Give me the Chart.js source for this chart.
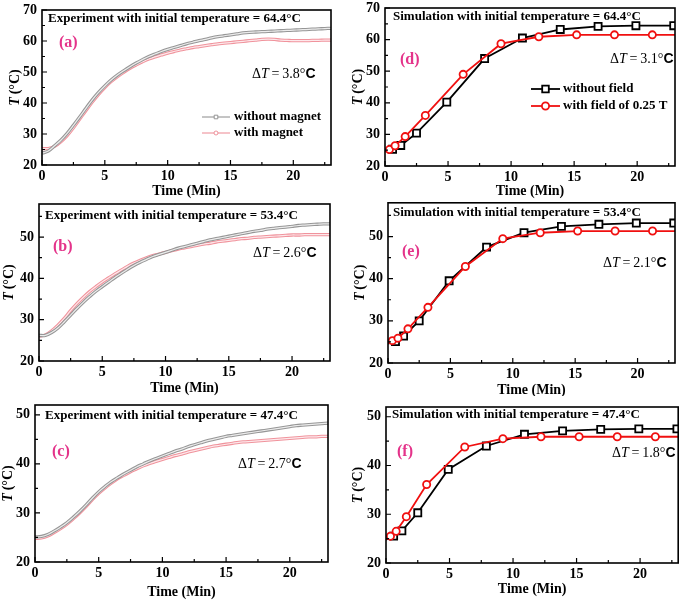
<!DOCTYPE html>
<html>
<head>
<meta charset="utf-8">
<script src="https://cdn.jsdelivr.net/npm/chart.js@4.4.0/dist/chart.umd.min.js"></script>
<style>
  html, body { margin: 0; padding: 0; background: #fff; }
  #wrap { position: relative; width: 685px; height: 601px; overflow: hidden; }
  #wrap canvas { position: absolute; }
</style>
</head>
<body>
<div id="wrap">
  <canvas id="chartA"></canvas>
  <canvas id="chartB"></canvas>
  <canvas id="chartC"></canvas>
  <canvas id="chartD"></canvas>
  <canvas id="chartE"></canvas>
  <canvas id="chartF"></canvas>
</div>
<script>
// ---- data ----
const expTime = [0, 0.5, 1, 1.5, 2, 2.5, 3, 3.5, 4, 4.5, 5, 5.5, 6, 6.5, 7, 7.5, 8, 8.5, 9, 9.5, 10, 10.5, 11, 11.5,
  12, 12.5, 13, 13.5, 14, 14.5, 15, 15.5, 16, 16.5, 17, 17.5, 18, 18.5, 19, 19.5, 20, 20.5, 21, 21.5, 22, 22.5, 23];

// (a) experiment, initial 64.4 C
const expA_without = [23.8, 24.5, 26.2, 28.0, 30.2, 32.8, 35.5, 38.3, 41.0, 43.4, 45.5, 47.4, 49.0, 50.4, 51.7, 52.9,
  54.0, 55.0, 55.8, 56.6, 57.3, 57.9, 58.5, 59.1, 59.6, 60.1, 60.5, 61.0, 61.4, 61.7, 62.0, 62.3, 62.6, 62.8, 62.9,
  63.0, 63.1, 63.2, 63.3, 63.4, 63.5, 63.6, 63.7, 63.8, 63.9, 64.0, 64.1];
const expA_with = [25.3, 25.3, 26.0, 27.5, 29.5, 32.0, 34.8, 37.6, 40.3, 42.8, 45.0, 46.9, 48.5, 49.9, 51.2, 52.3,
  53.3, 54.2, 54.9, 55.5, 56.1, 56.6, 57.1, 57.5, 57.9, 58.2, 58.5, 58.8, 59.1, 59.3, 59.5, 59.7, 59.9, 60.1, 60.3,
  60.5, 60.6, 60.5, 60.3, 60.2, 60.1, 60.1, 60.1, 60.2, 60.2, 60.3, 60.3];

// (b) experiment, initial 53.4 C
const expB_without = [26.2, 26.2, 26.9, 28.0, 29.5, 31.1, 32.7, 34.2, 35.6, 36.9, 38.0, 39.1, 40.2, 41.2, 42.2, 43.1,
  43.9, 44.6, 45.3, 45.8, 46.3, 46.8, 47.3, 47.7, 48.1, 48.5, 48.9, 49.3, 49.6, 49.9, 50.2, 50.5, 50.8, 51.1, 51.4,
  51.6, 51.9, 52.1, 52.3, 52.4, 52.6, 52.8, 52.9, 53.0, 53.1, 53.2, 53.2];
const expB_with = [26.0, 26.3, 27.3, 28.7, 30.3, 32.2, 33.9, 35.4, 36.8, 38.0, 39.1, 40.1, 41.1, 42.0, 42.9, 43.7,
  44.4, 45.0, 45.5, 45.9, 46.3, 46.7, 47.1, 47.4, 47.7, 48.0, 48.3, 48.5, 48.8, 49.0, 49.2, 49.4, 49.6, 49.7, 49.9,
  50.0, 50.1, 50.2, 50.3, 50.4, 50.5, 50.5, 50.6, 50.6, 50.6, 50.6, 50.6];

// (c) experiment, initial 47.4 C
const expC_without = [25.1, 25.2, 25.6, 26.3, 27.1, 28.0, 29.1, 30.3, 31.6, 33.0, 34.3, 35.4, 36.4, 37.2, 38.0, 38.7,
  39.4, 40.0, 40.6, 41.1, 41.6, 42.1, 42.6, 43.0, 43.5, 43.9, 44.3, 44.7, 45.0, 45.3, 45.6, 45.8, 46.0, 46.2, 46.4,
  46.6, 46.8, 47.0, 47.2, 47.4, 47.6, 47.8, 47.9, 48.0, 48.1, 48.2, 48.3];
const expC_with = [24.8, 24.9, 25.3, 26.0, 26.8, 27.7, 28.8, 30.0, 31.3, 32.7, 34.0, 35.1, 36.1, 37.0, 37.7, 38.4,
  39.0, 39.6, 40.1, 40.5, 40.9, 41.3, 41.7, 42.0, 42.4, 42.7, 43.0, 43.3, 43.6, 43.8, 44.0, 44.2, 44.4, 44.5, 44.6,
  44.7, 44.8, 44.9, 45.0, 45.1, 45.2, 45.3, 45.4, 45.5, 45.5, 45.6, 45.6];

// simulations: squares = without field, circles = with field of 0.25 T
const simSquareTime = [0, 0.6, 1.25, 2.5, 4.9, 7.9, 10.9, 13.9, 16.9, 19.9, 22.9];
const simCircleTime = [0, 0.35, 0.8, 1.6, 3.2, 6.2, 9.2, 12.2, 15.2, 18.2, 21.2, 23];

const simD_without = [24.6, 25.3, 26.5, 30.4, 40.2, 54.0, 60.5, 63.2, 64.2, 64.4, 64.4];
const simD_with = [24.8, 25.2, 26.4, 29.3, 36.0, 49.0, 58.7, 60.9, 61.5, 61.5, 61.5, 61.5];
const simE_without = [24.6, 25.1, 26.4, 30.0, 39.5, 47.5, 50.9, 52.4, 52.9, 53.2, 53.2];
const simE_with = [24.7, 25.3, 25.9, 28.1, 33.2, 42.9, 49.5, 50.9, 51.3, 51.3, 51.3, 51.3];
const simF_without = [24.8, 25.5, 26.6, 30.3, 39.2, 44.0, 46.4, 47.1, 47.4, 47.5, 47.5];
const simF_with = [24.8, 25.5, 26.5, 29.5, 36.1, 43.8, 45.5, 45.9, 45.9, 45.9, 45.9, 45.9];

const initialTemps = ['64.4', '53.4', '47.4'];
const deltaExp = ['3.8', '2.6', '2.7'];
const deltaSim = ['3.1', '2.1', '1.8'];
const yMaxRows = [70, 58, 52];
const xMax = 23;
const xStep = 5;
const yStep = 10;

// ---- helpers ----
const SERIF = '"Liberation Serif", "Times New Roman", serif';
const SANS = '"Liberation Sans", Arial, sans-serif';
const LABEL_PINK = '#e4338a';

function pairs(xs, ys) {
  return ys.map((y, i) => ({ x: xs[i], y: y }));
}

function expDatasets(without, withMag) {
  return [
    { data: pairs(expTime, without), borderColor: '#ececec', borderWidth: 1.2, order: 1 },
    { data: pairs(expTime, without), borderColor: '#969696', borderWidth: 3.3, order: 2 },
    { data: pairs(expTime, withMag), borderColor: '#fde8eb', borderWidth: 1.2, order: 3 },
    { data: pairs(expTime, withMag), borderColor: '#f0939c', borderWidth: 3.3, order: 4 }
  ].map(d => Object.assign(d, { pointRadius: 0, tension: 0.35, fill: false }));
}

// hide the markers at the very ends of the simulated curves
const endRadius = r => ctx => (ctx.raw && (ctx.raw.x === 0 || ctx.raw.x === xMax)) ? 0 : r;

function simDatasets(without, withField) {
  return [
    {
      data: pairs(simCircleTime, withField), borderColor: '#f01010', borderWidth: 1.8,
      pointStyle: 'circle', pointRadius: endRadius(3.6), pointBorderWidth: 1.8,
      pointBorderColor: '#f01010', pointBackgroundColor: '#fff', order: 1
    },
    {
      data: pairs(simSquareTime, without), borderColor: '#000', borderWidth: 1.8,
      pointStyle: 'rect', pointRadius: endRadius(5), pointBorderWidth: 1.8,
      pointBorderColor: '#000', pointBackgroundColor: '#fff', order: 2
    }
  ].map(d => Object.assign(d, { tension: 0, fill: false }));
}

function drawRuns(ctx, x, y, runs, align) {
  let total = 0;
  runs.forEach(r => { ctx.font = r[0]; total += ctx.measureText(r[1]).width; });
  let cx = align === 'center' ? x - total / 2 : x;
  ctx.textAlign = 'left';
  ctx.textBaseline = 'middle';
  runs.forEach(r => {
    ctx.font = r[0];
    ctx.fillText(r[1], cx, y);
    cx += ctx.measureText(r[1]).width;
  });
}

// frame, inward ticks and all the in-plot text
function decorPlugin(p) {
  return {
    id: 'decor' + p.id,
    afterDatasetsDraw(chart) {
      const ctx = chart.ctx;
      const a = chart.chartArea;
      const xs = chart.scales.x, ys = chart.scales.y;
      const ox = p.box[0], oy = p.box[1];
      ctx.save();
      ctx.strokeStyle = '#000';
      ctx.lineWidth = 1.6;
      ctx.strokeRect(a.left, a.top, a.right - a.left, a.bottom - a.top);

      ctx.lineWidth = 1.2;
      ctx.beginPath();
      for (let v = 0; v <= xMax; v += xStep / 2) {
        const px = xs.getPixelForValue(v);
        const len = (v % xStep === 0) ? 5 : 3;
        ctx.moveTo(px, a.bottom); ctx.lineTo(px, a.bottom - len);
      }
      for (let v = 20; v <= ys.max; v += yStep / 2) {
        const py = ys.getPixelForValue(v);
        const len = (v % yStep === 0) ? 5 : 3;
        ctx.moveTo(a.left, py); ctx.lineTo(a.left + len, py);
      }
      ctx.stroke();

      ctx.fillStyle = '#000';
      // panel title
      drawRuns(ctx, p.title[0] - ox, p.title[1] - oy, [['bold 13px ' + SERIF, p.titleText]], 'left');
      // panel letter
      ctx.fillStyle = LABEL_PINK;
      drawRuns(ctx, p.letter[0] - ox, p.letter[1] - oy, [['bold 16px ' + SERIF, p.letterText]], 'left');
      // delta T
      ctx.fillStyle = '#000';
      drawRuns(ctx, p.delta[0] - ox, p.delta[1] - oy, [
        ['14px ' + SERIF, '\u0394'],
        ['italic 14px ' + SERIF, 'T'],
        ['14px ' + SERIF, '\u2009=\u2009' + p.deltaText + '\u00b0'],
        ['bold 14px ' + SANS, 'C']
      ], 'left');
      // x axis title
      drawRuns(ctx, (a.left + a.right) / 2, p.xTitleY - oy, [['bold 14px ' + SERIF, 'Time (Min)']], 'center');
      // y axis title
      ctx.save();
      ctx.translate(p.yTitleX - ox, (a.top + a.bottom) / 2);
      ctx.rotate(-Math.PI / 2);
      drawRuns(ctx, 0, 0, [['italic bold 14px ' + SERIF, 'T'], ['bold 14px ' + SERIF, '\u2009(\u00b0C)']], 'center');
      ctx.restore();

      // legend
      if (p.legend) {
        const L = p.legend;
        L.items.forEach((it, i) => {
          const y = L.y[i] - oy;
          const x0 = L.x0 - ox, x1 = L.x1 - ox, xm = (x0 + x1) / 2;
          ctx.strokeStyle = it.color;
          ctx.lineWidth = it.lw;
          ctx.beginPath(); ctx.moveTo(x0, y); ctx.lineTo(x1, y); ctx.stroke();
          ctx.fillStyle = '#fff';
          ctx.lineWidth = it.mlw;
          ctx.beginPath();
          if (it.shape === 'rect') {
            ctx.rect(xm - it.size, y - it.size, it.size * 2, it.size * 2);
          } else {
            ctx.arc(xm, y, it.size, 0, Math.PI * 2);
          }
          ctx.fill(); ctx.stroke();
          ctx.fillStyle = '#000';
          drawRuns(ctx, L.tx - ox, y, [['bold 13px ' + SERIF, it.text]], 'left');
        });
      }
      ctx.restore();
    }
  };
}

// ---- panel layout (page pixels) ----
const panels = [
  { id: 'chartA', box: [0, 0, 340, 200], plot: [42, 10, 331, 165], row: 0, kind: 'exp',
    datasets: expDatasets(expA_without, expA_with), title: [48, 19], letter: [59, 43], delta: [252, 74],
    xTitleY: 191, yTitleX: 15, letterText: '(a)',
    legend: { x0: 202, x1: 230, tx: 234, y: [117, 133], items: [
      { text: 'without magnet', color: '#8a8a8a', lw: 1, shape: 'rect', size: 1.8, mlw: 0.9 },
      { text: 'with magnet', color: '#ec8791', lw: 1, shape: 'circle', size: 2, mlw: 0.9 }
    ] } },
  { id: 'chartB', box: [0, 196, 340, 200], plot: [39, 204, 330, 361], row: 1, kind: 'exp',
    datasets: expDatasets(expB_without, expB_with), title: [45, 216], letter: [53, 247], delta: [253, 253],
    xTitleY: 388, yTitleX: 9, letterText: '(b)' },
  { id: 'chartC', box: [0, 398, 340, 203], plot: [35, 405, 328, 562], row: 2, kind: 'exp',
    datasets: expDatasets(expC_without, expC_with), title: [45, 416], letter: [52, 452], delta: [238, 464],
    xTitleY: 592, yTitleX: 8, letterText: '(c)' },
  { id: 'chartD', box: [340, 0, 345, 200], plot: [385, 8, 675, 166], row: 0, kind: 'sim',
    datasets: simDatasets(simD_without, simD_with), title: [393, 17], letter: [400, 60], delta: [610, 59],
    xTitleY: 191, yTitleX: 358, letterText: '(d)',
    legend: { x0: 531, x1: 560, tx: 563, y: [89, 106], items: [
      { text: 'without field', color: '#000', lw: 1.8, shape: 'rect', size: 3.3, mlw: 1.8 },
      { text: 'with field of 0.25 T', color: '#f01010', lw: 1.8, shape: 'circle', size: 3.6, mlw: 1.8 }
    ] } },
  { id: 'chartE', box: [340, 196, 345, 200], plot: [388, 202, 675, 363], row: 1, kind: 'sim',
    datasets: simDatasets(simE_without, simE_with), title: [393, 213], letter: [402, 252], delta: [603, 263],
    xTitleY: 390, yTitleX: 360, letterText: '(e)' },
  { id: 'chartF', box: [340, 398, 345, 203], plot: [386, 407, 683, 563], row: 2, kind: 'sim',
    datasets: simDatasets(simF_without, simF_with), title: [392, 415], letter: [397, 452], delta: [612, 453],
    xTitleY: 589, yTitleX: 358, letterText: '(f)' }
];

panels.forEach(p => {
  const prefix = p.kind === 'exp' ? 'Experiment' : 'Simulation';
  p.titleText = prefix + ' with initial temperature = ' + initialTemps[p.row] + '\u00b0C';
  p.deltaText = p.kind === 'exp' ? deltaExp[p.row] : deltaSim[p.row];
});

function initializeChart(p) {
  const el = document.getElementById(p.id);
  const [bx, by, bw, bh] = p.box;
  const [pl, pt, pr, pb] = p.plot;
  el.width = bw; el.height = bh;
  el.style.left = bx + 'px'; el.style.top = by + 'px';
  el.style.width = bw + 'px'; el.style.height = bh + 'px';

  const tickFont = { family: SERIF, size: 14, weight: 'bold' };
  new Chart(el.getContext('2d'), {
    type: 'line',
    data: { datasets: p.datasets },
    options: {
      responsive: false,
      devicePixelRatio: 1,
      animation: false,
      layout: { padding: { left: 0, top: pt - by, right: bx + bw - pr, bottom: 0 } },
      plugins: { legend: { display: false }, tooltip: { enabled: false } },
      scales: {
        x: {
          type: 'linear', min: 0, max: xMax,
          grid: { display: false, drawTicks: false }, border: { display: false },
          ticks: { stepSize: xStep, includeBounds: false, color: '#000', font: tickFont, padding: 3, maxRotation: 0 },
          afterFit: s => { s.height = by + bh - pb; s.paddingLeft = 0; s.paddingRight = 0; }
        },
        y: {
          min: 20, max: yMaxRows[p.row],
          grid: { display: false, drawTicks: false }, border: { display: false },
          ticks: { stepSize: yStep, includeBounds: false, color: '#000', font: tickFont, padding: 5 },
          afterFit: s => { s.width = pl - bx; s.paddingTop = 0; s.paddingBottom = 0; }
        }
      }
    },
    plugins: [decorPlugin(p)]
  });
}

document.addEventListener('DOMContentLoaded', () => {
  panels.forEach(initializeChart);
});
</script>
</body>
</html>
